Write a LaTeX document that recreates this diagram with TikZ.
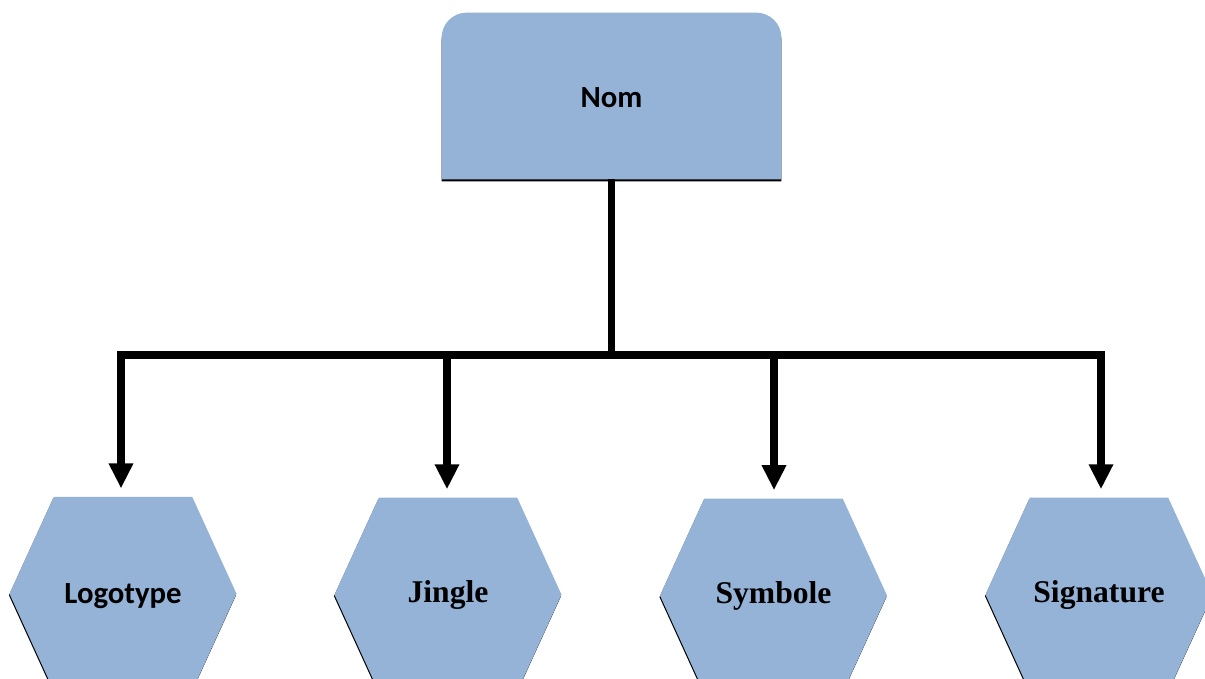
\documentclass[tikz,border=0pt]{standalone}
\usepackage{fontspec}
\usepackage{tikz}
\usetikzlibrary{arrows.meta,shapes.symbols,shadows}
\newfontfamily\carlito{Carlito}
\newfontfamily\timesfont{Liberation Serif}
\definecolor{nomblue}{RGB}{149,179,215}

\begin{document}
\begin{tikzpicture}[
        hexa/.style={signal, signal to=west and east, signal pointer angle=130.9,
          minimum width=4.54cm, minimum height=3.88cm, inner sep=0pt, fill=nomblue,
          general shadow={shadow xshift=-0.3pt, shadow yshift=-0.9pt, fill=black}},
        sanslabel/.style={font=\carlito\bfseries\fontsize{17.5}{21}\selectfont},
        seriflabel/.style={font=\timesfont\bfseries\fontsize{18}{22}\selectfont},
        thick line/.style={line width=4pt},
        drop/.style={thick line, -{Triangle[width=0.46cm,length=0.5cm]}, shorten >=0.16cm}
    ]
        \useasboundingbox (0,0) rectangle (24.1,-13.58);

        % top box, rounded at the top only
        \node [minimum width=6.78cm, minimum height=3.32cm, inner sep=0pt] (nom) at (12.23,-1.92) {};
        \fill [black, rounded corners=0.5cm] ([yshift=-1.2pt]nom.south west) |- ([yshift=-1.2pt]nom.north) -| ([yshift=-1.2pt]nom.south east);
        \fill [nomblue, rounded corners=0.5cm] (nom.south west) |- (nom.north) -| (nom.south east);
        \node [sanslabel] at ([yshift=-1pt]nom) {Nom};

        % the four hexagons
        \node [hexa, sanslabel, text depth=0pt, yshift=-1pt] (logo) at (2.46,-11.84) {Logotype};
        \node [hexa, seriflabel, yshift=-1.5pt] (jingle) at (8.96,-11.84) {Jingle};
        \node [hexa, seriflabel, yshift=-2pt] (symb) at (15.47,-11.84) {Symbole};
        \node [hexa, seriflabel, yshift=-1.5pt] (sig) at (21.98,-11.84) {Signature};

        % bar and drops
        \coordinate (b1) at (2.42,-7.1);
        \coordinate (b2) at (8.94,-7.1);
        \coordinate (b3) at (15.48,-7.1);
        \coordinate (b4) at (22.02,-7.1);
        \draw [thick line] (nom.south) -- (nom.south |- b1);
        \draw [thick line, line cap=rect] (b1) -- (b4);
        \draw [drop] (b1) -- (b1 |- logo.north);
        \draw [drop] (b2) -- (b2 |- jingle.north);
        \draw [drop] (b3) -- (b3 |- symb.north);
        \draw [drop] (b4) -- (b4 |- sig.north);
    \end{tikzpicture}
\end{document}
